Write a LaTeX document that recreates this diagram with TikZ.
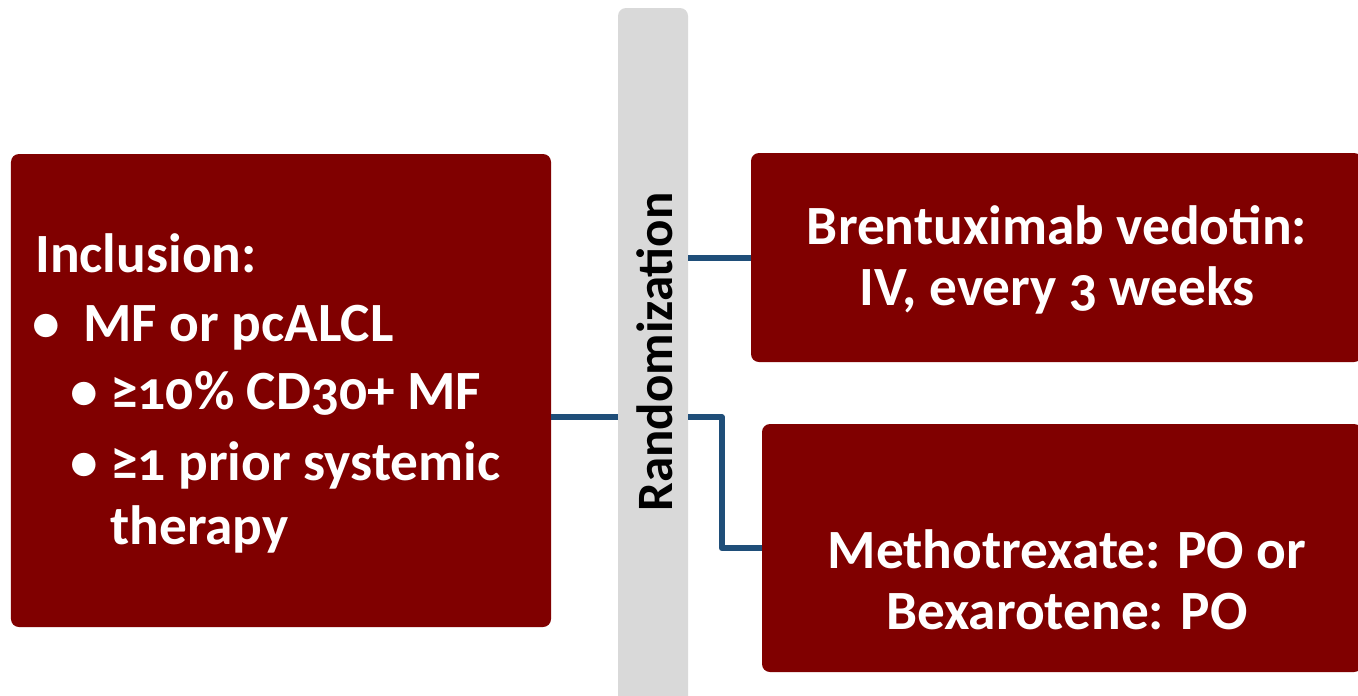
\documentclass[tikz,border=0pt]{standalone}
\usepackage{fontspec}
\setmainfont{Carlito}[Numbers=OldStyle]
\usepackage{tikz}
\usetikzlibrary{positioning}

\definecolor{boxred}{RGB}{128,0,0}
\definecolor{bargray}{RGB}{217,217,217}
\definecolor{linkblue}{RGB}{31,78,121}

\begin{document}
\begin{tikzpicture}
  \tikzset{ARM/.style={fill=boxred, rounded corners=0.16cm, inner sep=0pt},
           TXT/.style={text=white, font=\fontsize{31.5}{35}\selectfont\bfseries, inner sep=0pt},
           LNK/.style={draw=linkblue, line width=0.12cm, line join=round}}
  \useasboundingbox (0,0) rectangle (27.16,-13.9);

  \node[ARM, minimum width=10.8cm, minimum height=9.46cm] (inc) at (5.62,-7.81) {};
  \node[fill=bargray, rounded corners=0.16cm, minimum width=1.4cm, minimum height=14.04cm, inner sep=0pt] (bar) at (13.06,-7.18) {};
  \node[ARM, minimum width=12.22cm, minimum height=4.18cm] (bv) at (21.13,-5.15) {};
  \node[ARM, minimum width=12.0cm, minimum height=4.96cm] (mtx) at (21.24,-10.96) {};

  \node[rotate=90, font=\fontsize{29}{33}\selectfont\bfseries, inner sep=0pt] (rnd) at (13.1,-7.04) {Randomization};

  % inclusion text
  \node[TXT, anchor=base west] (l0) at (0.7,-5.44) {Inclusion:};
  \node[TXT, anchor=base west] (b1) at (0.64,-6.82) {•};
  \node[TXT, anchor=base west] (l1) at (1.66,-6.82) {MF or pcALCL};
  \node[TXT, anchor=base west] (b2) at (1.4,-8.18) {•};
  \node[TXT, anchor=base west] (l2) at (2.2,-8.18) {≥10\% CD30+ MF};
  \node[TXT, anchor=base west] (b3) at (1.4,-9.6) {•};
  \node[TXT, anchor=base west] (l3) at (2.2,-9.6) {≥1 prior systemic};
  \node[TXT, anchor=base west] (l4) at (2.2,-10.88) {therapy};

  \node[TXT, align=center] (tx1) at (21.14,-5.2) {Brentuximab vedotin:\\IV, every 3 weeks};
  \node[TXT, align=center] (tx2) at (21.34,-11.6) {Methotrexate: PO or\\Bexarotene: PO};

  \draw[LNK] (bv.west) -- (bv.west -| bar.east);
  \draw[LNK] ([yshift=-0.53cm]inc.east) -- ([yshift=-0.53cm]inc.east -| bar.west);
  \draw[LNK] (mtx.west) -- ++(-0.8,0) |- ([yshift=-0.53cm]inc.east -| bar.east);
\end{tikzpicture}
\end{document}
